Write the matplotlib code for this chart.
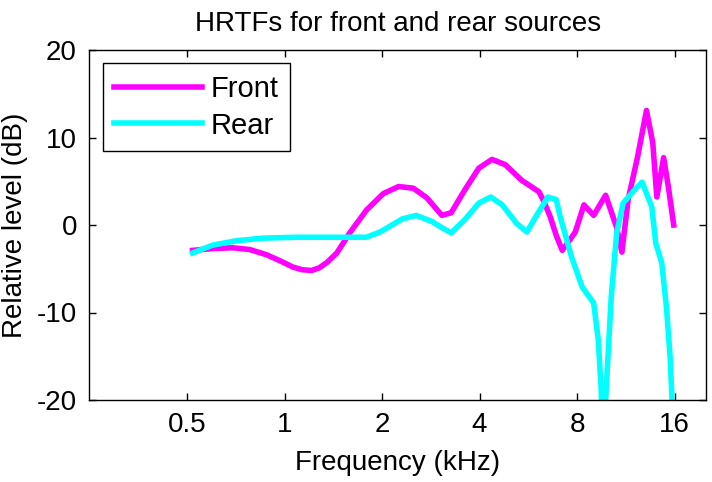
import numpy as np
import matplotlib
matplotlib.use("Agg")
import matplotlib.pyplot as plt

# frequencies (kHz) and levels (dB)
front_f = [0.52, 0.60, 0.69, 0.78, 0.88, 0.97, 1.06, 1.13, 1.21, 1.28, 1.35, 1.45, 1.59, 1.79, 2.02, 2.25, 2.5, 2.75,
           3.06, 3.27, 3.6, 3.98, 4.37, 4.8, 5.4, 6.1, 6.3, 6.6, 6.9, 7.2, 7.6, 7.9, 8.4, 9.0, 9.8,
           10.6, 11.0, 11.5, 12.3, 13.1, 13.7, 14.1, 14.8, 15.3, 15.9]
front_db = [-2.9, -2.7, -2.6, -2.8, -3.4, -4.1, -4.8, -5.1, -5.2, -4.9, -4.3, -3.2, -0.9, 1.7, 3.6, 4.4, 4.2, 3.1,
            1.1, 1.4, 4.0, 6.5, 7.5, 6.9, 5.1, 3.8, 2.8, 1.0, -1.2, -2.9, -1.7, -0.8, 2.3, 1.1, 3.4,
            -0.3, -3.1, 2.9, 7.8, 13.1, 9.4, 3.2, 7.7, 4.4, 0.0]

rear_f = [0.52, 0.60, 0.71, 0.86, 1.09, 1.54, 1.79, 1.97, 2.08, 2.31, 2.55, 2.85, 3.06, 3.27, 3.6,
          3.98, 4.33, 4.7, 5.2, 5.6, 6.0, 6.5, 6.9, 7.1, 7.7, 8.3, 9.0, 9.3, 9.5, 9.65, 9.8, 10.2,
          10.6, 11.1, 11.9, 12.7, 13.6, 14.0, 14.6, 15.1, 15.5, 15.8, 16.0]
rear_db = [-3.2, -2.3, -1.8, -1.5, -1.4, -1.4, -1.4, -0.8, -0.3, 0.7, 1.1, 0.4, -0.3, -0.9, 0.6,
           2.5, 3.2, 2.3, 0.2, -0.8, 1.1, 3.2, 2.9, 0.9, -3.7, -7.1, -8.9, -13.1, -18.9, -30.0, -20.0, -8.2,
           -0.9, 2.5, 3.8, 4.9, 2.1, -2.1, -4.3, -9.4, -15.1, -22.0, -30.0]

xticks = [0.5, 1, 2, 4, 8, 16]
xticklabels = ["0.5", "1", "2", "4", "8", "16"]
yticks = [-20, -10, 0, 10, 20]

plt.rcParams['font.family'] = ['Liberation Sans', 'DejaVu Sans']
plt.rcParams['axes.unicode_minus'] = False

fig = plt.figure(figsize=(7.12, 4.82), dpi=100)
ax = fig.add_axes([89.5 / 712, 1 - 400 / 482, (706 - 89.5) / 712, 350 / 482])

ax.plot(front_f, front_db, color='#ff00ff', lw=4.0, solid_joinstyle='round', label='Front')
ax.plot(rear_f, rear_db, color='#00ffff', lw=4.0, solid_joinstyle='round', label='Rear')

ax.set_xscale('log')
ax.set_xlim(0.25, 20)
ax.set_ylim(-20, 20)
ax.set_xticks(xticks)
ax.set_xticklabels(xticklabels)
ax.minorticks_off()
ax.set_yticks(yticks)
ax.tick_params(direction='in', top=True, right=True, length=5, width=1, labelsize=20, pad=9)
for s in ax.spines.values():
    s.set_linewidth(1)

ax.set_xlabel("Frequency (kHz)", fontsize=20, labelpad=8)
ax.set_ylabel("Relative level (dB)", fontsize=20, labelpad=6)
ax.set_title("HRTFs for front and rear sources", fontsize=20, pad=14)

leg = ax.legend(loc='upper left', fontsize=21, fancybox=False, edgecolor='black',
                handlelength=3.0, handletextpad=0.3, borderaxespad=0.45, borderpad=0.4,
                labelspacing=0.3, framealpha=1)
leg.get_frame().set_linewidth(1)

fig.savefig("out.png", dpi=100)
